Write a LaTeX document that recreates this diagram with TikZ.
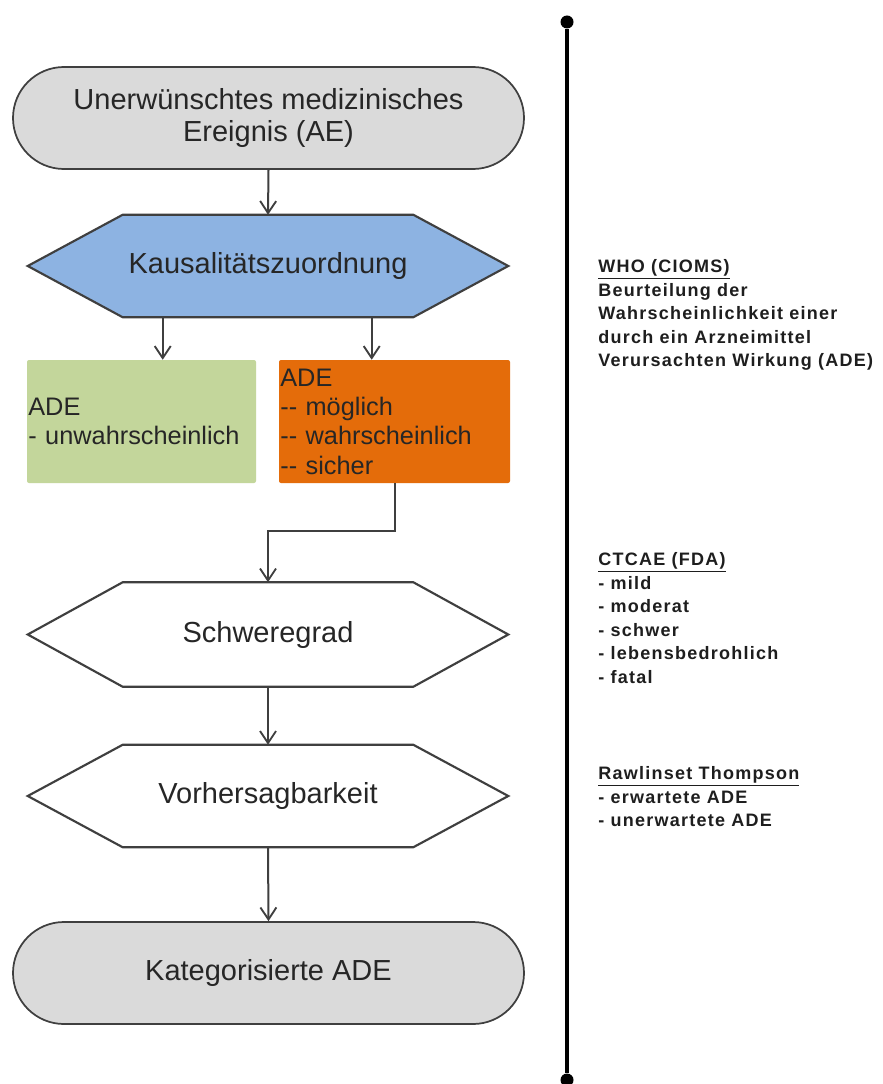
\documentclass[tikz,border=0pt]{standalone}
\usepackage{fontspec}
\setmainfont{Liberation Sans}
\newfontfamily\notefont[LetterSpace=7]{Liberation Sans}
\usetikzlibrary{shapes.misc,arrows.meta,calc,backgrounds}
\definecolor{edgegray}{HTML}{3F3F3F}
\definecolor{termgray}{HTML}{DADADA}
\definecolor{hexblue}{HTML}{8DB3E2}
\definecolor{adegreen}{HTML}{C3D69B}
\definecolor{adeorange}{HTML}{E46C0A}
\definecolor{txt}{HTML}{262626}
\definecolor{notetxt}{HTML}{1E1E1E}
% hexagonal outline around a rectangular node (#1), filled with #2
\newcommand\hexoutline[2]{%
  \path[hexline, fill=#2] (#1.west) -- ($(#1.north west)+(95,0)$) -- ($(#1.north east)+(-95,0)$)
    -- (#1.east) -- ($(#1.south east)+(-95,0)$) -- ($(#1.south west)+(95,0)$) -- cycle;}
\newcommand\dd{-\kern0pt-}
\begin{document}
\begin{tikzpicture}[x=0.75pt,y=-0.75pt,
  conn/.style={draw=edgegray, line width=1.5pt,
    -{Straight Barb[length=9pt,width=12pt,line width=1.4pt]}},
  term/.style={rounded rectangle, draw=edgegray, line width=1.3pt, fill=termgray,
    minimum width=383.25pt, minimum height=76.5pt, inner sep=0pt, text=txt,
    font=\fontsize{21.75}{24}\selectfont, align=center},
  hexbox/.style={rectangle, minimum width=360pt, inner sep=0pt, text=txt,
    font=\fontsize{21.75}{24}\selectfont},
  hexline/.style={draw=edgegray, line width=1.6pt, line join=miter},
  catbox/.style={rectangle, rounded corners=1.5pt, minimum height=92.25pt, inner xsep=1pt,
    inner ysep=0pt, align=left, font=\fontsize{19}{22}\selectfont, text=txt},
  note/.style={anchor=base west, inner sep=0pt, text=notetxt,
    font=\notefont\bfseries\fontsize{13.5}{16}\selectfont},
  dot/.style={circle, fill=black, inner sep=0pt, minimum size=9.75pt}
]
\useasboundingbox (0,0) rectangle (882,1084);

% flow chart
\node[term] (ae) at (268.5,118) {Unerwünschtes medizinisches\\Ereignis (AE)};
\node[hexbox, minimum height=76.5pt] (kz) at (268,266) {Kausalitätszuordnung};
\node[catbox, fill=adegreen, text width=169.75pt] (gr) at (141.5,421.5) {ADE\\- unwahrscheinlich};
\node[catbox, fill=adeorange, text width=171.25pt] (or) at (394.5,421.5)
  {ADE\\\dd{} möglich\\\dd{} wahrscheinlich\\\dd{} sicher};
\node[hexbox, minimum height=78pt] (sg) at (268,634.5) {Schweregrad};
\node[hexbox, minimum height=76.5pt] (vh) at (268,796) {Vorhersagbarkeit};
\node[term] (ka) at (268.5,973) {Kategorisierte ADE};

\begin{scope}[on background layer]
  \fill[white] (0,0) rectangle (882,1084);
  \hexoutline{kz}{hexblue}
  \hexoutline{sg}{white}
  \hexoutline{vh}{white}
\end{scope}

% connectors
\coordinate (g1) at ($(kz.south west)+(135,0)$);
\coordinate (o1) at ($(kz.south west)+(344,0)$);
\coordinate (o2) at ($(or.south west)+(116,0)$);
\draw[conn] (ae.south) -- (kz.north);
\draw[conn] (g1) -- (g1 |- gr.north);
\draw[conn] (o1) -- (o1 |- or.north);
\draw[conn] (o2) -- ++(0,48) -| (sg.north);
\draw[conn] (sg.south) -- (vh.north);
\draw[conn] (vh.south) -- (ka.north);

% divider
\node[dot] (lt) at (567,22) {};
\node[dot] (lb) at (567,1080) {};
\draw[line width=2.6pt] (lt) -- (lb);

% notes
\node[note] (w1) at (598,272.5) {\underline{WHO (CIOMS)}};
\node[note] (w2) at (598,296) {Beurteilung der};
\node[note] (w3) at (598,319.5) {Wahrscheinlichkeit einer};
\node[note] (w4) at (598,343) {durch ein Arzneimittel};
\node[note] (w5) at (598,366.5) {Verursachten Wirkung (ADE)};

\node[note] (c1) at (598,565.5) {\underline{CTCAE (FDA)}};
\node[note] (c2) at (598,589) {- mild};
\node[note] (c3) at (598,612.5) {- moderat};
\node[note] (c4) at (598,636) {- schwer};
\node[note] (c5) at (598,659.5) {- lebensbedrohlich};
\node[note] (c6) at (598,683) {- fatal};

\node[note] (r1) at (598,779.5) {\underline{Rawlinset Thompson}};
\node[note] (r2) at (598,803) {- erwartete ADE};
\node[note] (r3) at (598,826.5) {- unerwartete ADE};
\end{tikzpicture}
\end{document}
